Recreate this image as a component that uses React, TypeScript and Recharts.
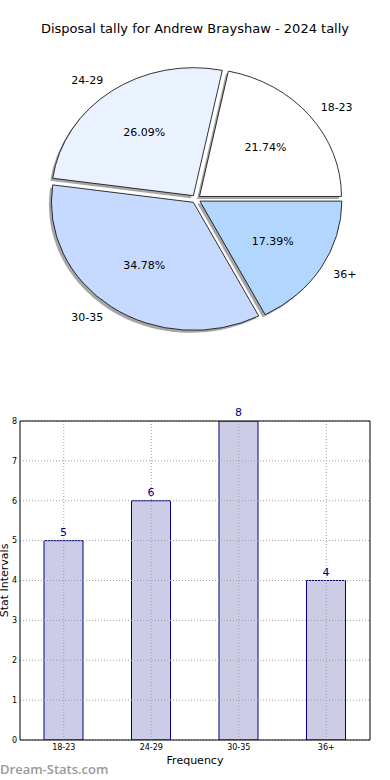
import React from 'react';
import { PieChart, Pie, Cell, BarChart, Bar, XAxis, YAxis, ReferenceLine, LabelList } from 'recharts';

const categories = ['18-23', '24-29', '30-35', '36+'];
const counts = [5, 6, 8, 4];
const pieColors = ['#ffffff', '#ebf2ff', '#c6d9ff', '#b3d6ff'];
const yTicks = [0, 1, 2, 3, 4, 5, 6, 7, 8];
const xTicks = [0, 1, 2, 3];
const xDomain = [-0.5, 3.5];
const yDomain = [0, 8];

const pieData = categories.map((name, i) => ({ name, value: counts[i] }));
const barData = categories.map((name, i) => ({ pos: i, name, value: counts[i] }));

const RAD = Math.PI / 180;
const RY = 128 / 142; // pie is drawn squashed, like the original
const EXPLODE = 4.5;
const FONT = '"DejaVu Sans", sans-serif';
const GRID = { stroke: '#a0a0a0', strokeDasharray: '1 2' };

const origin = (cx: number, cy: number, mid: number) => ({
  x: cx + EXPLODE * Math.cos(mid * RAD),
  y: cy - EXPLODE * RY * Math.sin(mid * RAD),
});

const wedgePath = (p: any, dx = 0, dy = 0) => {
  const { cx, cy, outerRadius, startAngle, endAngle, midAngle } = p;
  const o = origin(cx, cy, midAngle);
  const ox = o.x + dx;
  const oy = o.y + dy;
  const rx = outerRadius;
  const ry = outerRadius * RY;
  const sx = ox + rx * Math.cos(startAngle * RAD);
  const sy = oy - ry * Math.sin(startAngle * RAD);
  const ex = ox + rx * Math.cos(endAngle * RAD);
  const ey = oy - ry * Math.sin(endAngle * RAD);
  const large = Math.abs(endAngle - startAngle) > 180 ? 1 : 0;
  return `M${ox},${oy} L${sx},${sy} A${rx},${ry} 0 ${large} 0 ${ex},${ey} Z`;
};

const ShadowShape = (props: any) => (
  <path d={wedgePath(props, -2.5, 2.5)} fill="#4d4d4d" fillOpacity={0.5} stroke="none" />
);

const WedgeShape = (props: any) => (
  <path d={wedgePath(props)} fill={props.fill} stroke="#000" strokeWidth={0.8} />
);

const renderLabel = (props: any) => {
  const { cx, cy, midAngle, outerRadius, percent, name } = props;
  const o = origin(cx, cy, midAngle);
  const c = Math.cos(midAngle * RAD);
  const s = Math.sin(midAngle * RAD);
  const rx = outerRadius;
  const ry = outerRadius * RY;
  return (
    <g>
      <text x={o.x + 1.1 * rx * c} y={o.y - 1.1 * ry * s} textAnchor={c > 0 ? 'start' : 'end'}
        dominantBaseline="central" fontSize={11} fontFamily={FONT} fill="#000">{name}</text>
      <text x={o.x + 0.6 * rx * c} y={o.y - 0.6 * ry * s} textAnchor="middle"
        dominantBaseline="central" fontSize={11} fontFamily={FONT} fill="#000">
        {(percent * 100).toFixed(2)}%
      </text>
    </g>
  );
};

export default function App() {
  return (
    <div style={{ position: 'absolute', left: 0, top: 0, width: 390, height: 780, background: '#fff', fontFamily: FONT, overflow: 'hidden' }}>
      <div style={{ position: 'absolute', top: 21, left: 0, width: 390, textAlign: 'center', fontSize: 13, color: '#000' }}>
        Disposal tally for Andrew Brayshaw - 2024 tally
      </div>

      <div style={{ position: 'absolute', top: 0, left: 0 }}>
        <PieChart width={390} height={360} margin={{ top: 0, right: 0, bottom: 0, left: 0 }}>
          <Pie data={pieData} dataKey="value" nameKey="name" cx={196} cy={199} outerRadius={142}
            startAngle={0} endAngle={360} shape={ShadowShape} isAnimationActive={false} />
          <Pie data={pieData} dataKey="value" nameKey="name" cx={196} cy={199} outerRadius={142}
            startAngle={0} endAngle={360} shape={WedgeShape} label={renderLabel} labelLine={false}
            isAnimationActive={false}>
            {pieData.map((d, i) => (
              <Cell key={d.name} fill={pieColors[i]} />
            ))}
          </Pie>
        </PieChart>
      </div>

      <div style={{ position: 'absolute', top: 400, left: 0 }}>
        <BarChart width={390} height={380} data={barData} margin={{ top: 21, right: 20, bottom: 12, left: 0 }}>
          <XAxis dataKey="pos" type="number" domain={xDomain} ticks={xTicks} allowDataOverflow height={28}
            tickFormatter={(v: number) => categories[v]} tickLine={false} tickSize={0} axisLine={false}
            tick={{ fontSize: 8, fill: '#000', fontFamily: FONT }} tickMargin={4}
            label={{ value: 'Frequency', position: 'insideBottom', offset: 4, fontSize: 11, fill: '#000', fontFamily: FONT }} />
          <YAxis width={20} domain={yDomain} ticks={yTicks} allowDataOverflow tickLine={false} tickSize={0} axisLine={false}
            tick={{ fontSize: 8, fill: '#000', fontFamily: FONT }} tickMargin={3}
            label={{ value: 'Stat Intervals', angle: -90, position: 'center', dx: -6, fontSize: 11, fill: '#000', fontFamily: FONT }} />
          <Bar dataKey="value" fill="#ccccE6" stroke="#000080" strokeWidth={1} barSize={39} isAnimationActive={false}>
            <LabelList dataKey="value" position="top" offset={5} fill="#000080" fontSize={11} fontFamily={FONT} />
          </Bar>
          {yTicks.map((t) => (
            <ReferenceLine key={'y' + t} y={t} {...GRID} />
          ))}
          {xTicks.map((t) => (
            <ReferenceLine key={'x' + t} x={t} {...GRID} />
          ))}
          {/* axes frame */}
          <ReferenceLine y={yDomain[0]} stroke="#000" />
          <ReferenceLine y={yDomain[1]} stroke="#000" />
          <ReferenceLine x={xDomain[0]} stroke="#000" />
          <ReferenceLine x={xDomain[1]} stroke="#000" />
        </BarChart>
      </div>

      <div style={{ position: 'absolute', top: 760, left: 0, fontSize: 13, fontWeight: 600, fontFamily: '"Open Sans", sans-serif', color: '#999' }}>
        Dream-Stats.com
      </div>
    </div>
  );
}
